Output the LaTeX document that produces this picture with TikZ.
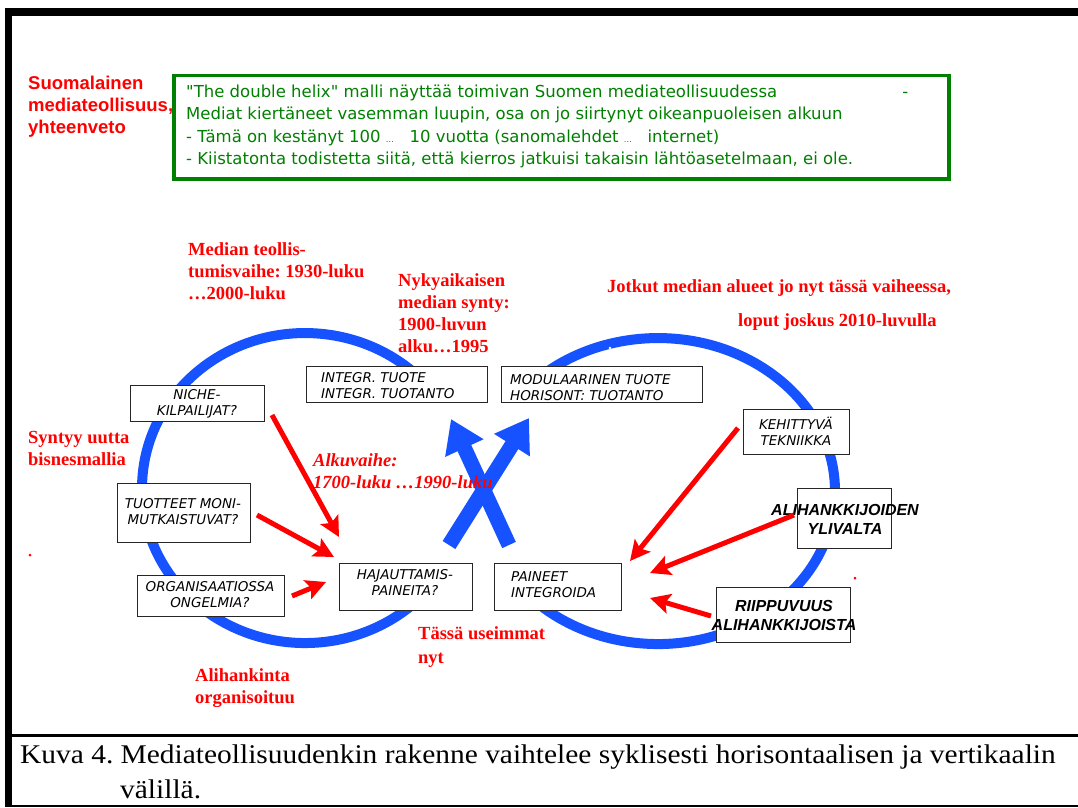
\documentclass[tikz,border=0pt]{standalone}
\usepackage{fontspec}
\setmainfont{Liberation Serif}
\newfontfamily\labelsans{Liberation Sans}
\newfontfamily\notesans{DejaVu Sans}
\newfontfamily\captionfont[FakeStretch=1.09]{Liberation Serif}
\usetikzlibrary{arrows.meta}
\definecolor{loopblue}{RGB}{22,82,255}
\definecolor{notegreen}{RGB}{0,128,0}
\definecolor{notered}{RGB}{255,0,0}

\begin{document}
\frenchspacing
\begin{tikzpicture}[x=1pt,y=-1pt,
  ring/.style={draw=loopblue,line width=10pt},
  crossarrow/.style={draw=loopblue,line width=15pt,-{Triangle[length=32pt,width=40pt]}},
  pressarrow/.style={draw=notered,line width=5pt,-{Stealth[length=20pt,width=20pt,inset=4pt]}},
  stagebox/.style={draw=black!85,line width=1.3pt,fill=white,inner sep=0pt,anchor=north west},
  stagetext/.style={font=\notesans\itshape\fontsize{13.5}{16}\selectfont,inner sep=0pt,align=center},
  strongtext/.style={font=\labelsans\bfseries\itshape\fontsize{16}{19}\selectfont,inner sep=0pt,align=center},
  serifnote/.style={text=notered,font=\bfseries\fontsize{18.5}{22}\selectfont,inner sep=0pt,align=left,anchor=base west},
  sansnote/.style={text=notered,font=\labelsans\bfseries\fontsize{18.5}{22}\selectfont,inner sep=0pt,align=left,anchor=base west},
  greennote/.style={text=notegreen,font=\notesans\fontsize{16.5}{22.3}\selectfont,inner sep=0pt,align=left,anchor=base west},
  reddot/.style={fill=notered,circle,inner sep=0pt,minimum size=3pt}
]
\useasboundingbox (0,0) rectangle (1078,807);
\fill[white] (0,0) rectangle (1078,807);

% page frame and caption rules
\fill[black] (5,8) rectangle (1078,16);
\fill[black] (5,8) rectangle (12,807);
\draw[line width=2.5pt] (12,735.5) -- (1078,735.5);
\draw[line width=2pt] (12,806) -- (1078,806);

% the two loops of the double helix
\draw[ring] (429.9,388.4) arc[start angle=40,end angle=320,x radius=163pt,y radius=155pt];
\draw[ring] (522.4,392.7) arc[start angle=140,end angle=-140,x radius=177pt,y radius=153pt];
\fill[white] (610,348) circle (1.4pt);

% crossing transition arrows
\coordinate (crossAtail) at (449,545);
\coordinate (crossAhead) at (529,418);
\coordinate (crossBtail) at (509,545);
\coordinate (crossBhead) at (451,419);
\draw[crossarrow] (crossAtail) -- (crossAhead);
\draw[crossarrow] (crossBtail) -- (crossBhead);

% stage boxes
\node[stagebox,minimum width=134pt,minimum height=36pt] (niche) at (130,385) {};
\node[stagebox,minimum width=181pt,minimum height=36pt] (integ) at (306,366) {};
\node[stagebox,minimum width=201pt,minimum height=36pt] (modul) at (501,366) {};
\node[stagebox,minimum width=106pt,minimum height=45pt] (kehit) at (743,409) {};
\node[stagebox,minimum width=133pt,minimum height=59pt] (tuott) at (117,483) {};
\node[stagebox,minimum width=147pt,minimum height=41pt] (organ) at (137,575) {};
\node[stagebox,minimum width=133pt,minimum height=47pt] (hajau) at (339,563) {};
\node[stagebox,minimum width=127pt,minimum height=47pt] (paine) at (494,563) {};
\node[stagebox,minimum width=94pt,minimum height=60pt] (alihy) at (797,488) {};
\node[stagebox,minimum width=134pt,minimum height=55pt] (riipp) at (716,587) {};

\node[stagetext] (nicheT) at (197,404) {NICHE-\\KILPAILIJAT?};
\node[stagetext,align=left,anchor=west] (integT) at (321,386) {INTEGR. TUOTE\\INTEGR. TUOTANTO};
\node[stagetext,align=left,anchor=west] (modulT) at (510,388) {MODULAARINEN TUOTE\\HORISONT: TUOTANTO};
\node[stagetext] (kehitT) at (796,431) {KEHITTYVÄ\\TEKNIIKKA};
\node[stagetext] (tuottT) at (183,512) {TUOTTEET MONI-\\MUTKAISTUVAT?};
\node[stagetext] (organT) at (210,595) {ORGANISAATIOSSA\\ONGELMIA?};
\node[stagetext] (hajauT) at (405,582) {HAJAUTTAMIS-\\PAINEITA?};
\node[stagetext,align=left,anchor=west] (paineT) at (511,585) {PAINEET\\INTEGROIDA};
\node[strongtext] (alihyT) at (845,519) {ALIHANKKIJOIDEN\\YLIVALTA};
\node[strongtext] (riippT) at (784,615) {RIIPPUVUUS\\ALIHANKKIJOISTA};

% pressures pushing towards the turning points
\coordinate (nicheOut) at (272,415);
\coordinate (tuottOut) at (257,515);
\coordinate (organOut) at (292,596);
\coordinate (hajauInA) at (339,537);
\coordinate (hajauInB) at (334,557);
\coordinate (hajauInC) at (326,582);
\coordinate (kehitOut) at (738,428);
\coordinate (alihyOut) at (794,515);
\coordinate (riippOut) at (711,616);
\coordinate (paineInA) at (630,561);
\coordinate (paineInB) at (650,573);
\coordinate (paineInC) at (650,598);
\draw[pressarrow] (nicheOut) -- (hajauInA);
\draw[pressarrow] (tuottOut) -- (hajauInB);
\draw[pressarrow] (organOut) -- (hajauInC);
\draw[pressarrow] (kehitOut) -- (paineInA);
\draw[pressarrow] (alihyOut) -- (paineInB);
\draw[pressarrow] (riippOut) -- (paineInC);

% summary box (multi-line nodes are placed by the baseline of their last line)
\node[draw=notegreen,line width=3.5pt,inner sep=0pt,anchor=north west,minimum width=775pt,minimum height=103.5pt] (summary) at (172,73.5) {};
\node[greennote] (summaryT) at (186,164.5) {\makebox[722pt][l]{"The double helix" malli näyttää toimivan Suomen mediateollisuudessa\hfill-}\\
Mediat kiertäneet vasemman luupin, osa on jo siirtynyt oikeanpuoleisen alkuun\\
- Tämä on kestänyt 100 {\footnotesize…}\ \ \ 10 vuotta (sanomalehdet {\footnotesize…}\ \ \ internet)\\
- Kiistatonta todistetta siitä, että kierros jatkuisi takaisin lähtöasetelmaan, ei ole.};

% red annotations
\node[sansnote] (title) at (28,133) {Suomalainen\\mediateollisuus,\\yhteenveto};
\node[serifnote] (industrial) at (188,299.5) {Median teollis-\\tumisvaihe: 1930-luku\\…2000-luku};
\node[serifnote] (birth) at (398,352) {Nykyaikaisen\\median synty:\\1900-luvun\\alku…1995};
\node[serifnote] (someareas) at (607,292.5) {Jotkut median alueet jo nyt tässä vaiheessa,};
\node[serifnote] (rest) at (738,326.5) {loput joskus 2010-luvulla};
\node[serifnote] (newmodel) at (28,465.5) {Syntyy uutta\\bisnesmallia};
\node[serifnote,font=\bfseries\itshape\fontsize{18.5}{22}\selectfont] (early) at (313,488.5) {Alkuvaihe:\\1700-luku …1990-luku};
\node[serifnote,font=\bfseries\fontsize{18.5}{24}\selectfont] (mostnow) at (418,663.5) {Tässä useimmat\\nyt};
\node[serifnote] (outsource) at (195,703.5) {Alihankinta\\organisoituu};
\node[reddot] (dotL) at (30,555) {};
\node[reddot] (dotR) at (855,578) {};

% caption
\node[inner sep=0pt,anchor=base west,align=left,font=\captionfont\fontsize{27}{35}\selectfont] (caption) at (20,798) {Kuva 4. Mediateollisuudenkin rakenne vaihtelee syklisesti horisontaalisen ja vertikaalin\\\hspace*{100pt}välillä.};
\end{tikzpicture}
\end{document}
